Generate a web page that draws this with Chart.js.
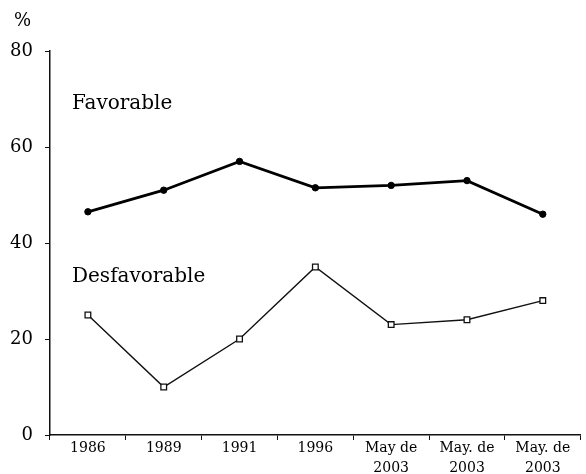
<!DOCTYPE html>
<html>
<head>
<meta charset="utf-8">
<script src="https://cdn.jsdelivr.net/npm/chart.js@4/dist/chart.umd.min.js"></script>
<style>
  html, body { margin: 0; padding: 0; background: #fff; }
  #wrap { width: 586px; height: 474px; }
</style>
</head>
<body>
<div id="wrap"><canvas id="chart"></canvas></div>
<script>
// datos
const categorias = ['1986', '1989', '1991', '1996', ['May de', '2003'], ['May. de', '2003'], ['May. de', '2003']];
const favorable = [46.5, 51, 57, 51.5, 52, 53, 46];
const desfavorable = [25, 10, 20, 35, 23, 24, 28];
const ticksY = [0, 20, 40, 60, 80];

const fuente = 'DejaVu Serif';

// etiquetas de texto dentro del grafico
const etiquetas = {
    id: 'etiquetas',
    afterDraw(chart) {
        const ctx = chart.ctx;
        const y = chart.scales.y;
        const area = chart.chartArea;
        ctx.save();
        ctx.fillStyle = '#000';
        ctx.textBaseline = 'middle';
        ctx.textAlign = 'left';
        ctx.font = '20px "' + fuente + '"';
        ctx.fillText('Favorable', area.left + 22, y.getPixelForValue(69.1));
        ctx.fillText('Desfavorable', area.left + 22, y.getPixelForValue(33));
        ctx.font = '18px "' + fuente + '"';
        ctx.fillText('%', 14, 21);
        ctx.restore();
    }
};

const ctx = document.getElementById('chart').getContext('2d');
new Chart(ctx, {
    type: 'line',
    data: {
        labels: categorias,
        datasets: [{
            label: 'Favorable',
            data: favorable,
            borderColor: '#000',
            backgroundColor: '#000',
            borderWidth: 2.8,
            pointRadius: 3.2,
            pointBorderWidth: 1,
            pointStyle: 'circle',
            tension: 0
        }, {
            label: 'Desfavorable',
            data: desfavorable,
            borderColor: '#111',
            backgroundColor: '#fff',
            borderWidth: 1.4,
            pointRadius: 4,
            pointBorderWidth: 1.3,
            pointStyle: 'rect',
            tension: 0
        }]
    },
    options: {
        responsive: true,
        maintainAspectRatio: false,
        animation: false,
        layout: { padding: { top: 51, right: 0, left: 0, bottom: 0 } },
        plugins: {
            legend: { display: false },
            tooltip: { enabled: false }
        },
        scales: {
            x: {
                offset: true,
                grid: { offset: true, drawOnChartArea: false, tickLength: 5, color: '#111', tickWidth: 1 },
                border: { color: '#111', width: 1.5 },
                ticks: {
                    color: '#000',
                    font: { family: fuente, size: 14, lineHeight: 1.45 },
                    padding: -2,
                    maxRotation: 0,
                    autoSkip: false
                },
                afterFit(scale) { scale.height = 39; }
            },
            y: {
                min: 0,
                max: 80,
                afterBuildTicks(scale) { scale.ticks = ticksY.map(v => ({ value: v })); },
                grid: { drawOnChartArea: false, tickLength: 5, color: '#111' },
                border: { color: '#111', width: 1.5 },
                ticks: {
                    color: '#000',
                    font: { family: fuente, size: 18 },
                    padding: 12
                },
                afterFit(scale) { scale.width = 50; }
            }
        }
    },
    plugins: [etiquetas]
});
</script>
</body>
</html>
